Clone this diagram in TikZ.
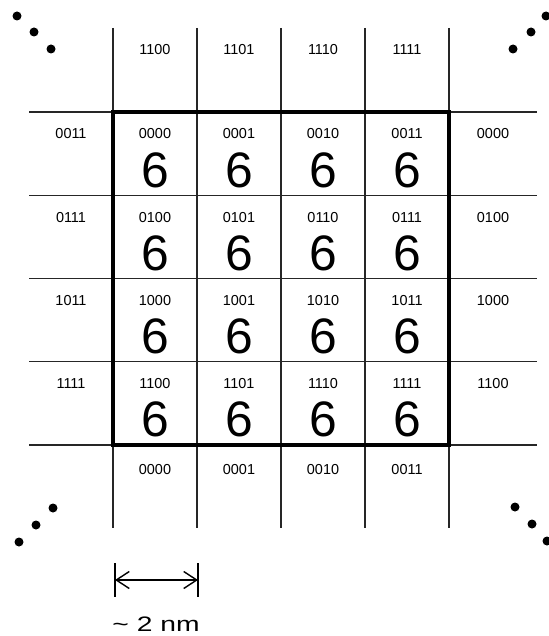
\documentclass[tikz,border=0pt]{standalone}
\usepackage{graphicx}
\usepackage{fontspec}
\setmainfont{Liberation Sans}
\usetikzlibrary{arrows.meta}

\begin{document}
\begin{tikzpicture}[
    x=1bp, y=-1bp,
    gridline/.style={line width=1.1bp, black!85},
    cellcode/.style={font=\fontsize{14.5}{16}\selectfont, inner sep=0pt},
    cellsix/.style={font=\fontsize{50}{50}\selectfont, inner sep=0pt},
    dot/.style={circle, fill=black, inner sep=0pt, minimum size=9bp},
    scalebar/.style={line width=1.4bp,
      {Straight Barb[length=13bp,width=17bp]}-{Straight Barb[length=13bp,width=17bp]}}
  ]
  \useasboundingbox (0,0) rectangle (549,636);

  %% Thin grid lines
  \foreach \gx in {113,197,281,365,449}
    \draw[gridline] (\gx,28) -- (\gx,528);
  \foreach \gy in {112,195.25,278.5,361.75,445}
    \draw[gridline] (29,\gy) -- (537,\gy);

  %% Thick boundary of the supercell
  \draw[line width=4.5bp] (113,112) rectangle (449,445);

  %% Inner cells: code and count
  \foreach [count=\j from 0] \row in {{0000,0001,0010,0011},{0100,0101,0110,0111},
                                      {1000,1001,1010,1011},{1100,1101,1110,1111}}
    \foreach [count=\i from 0] \code in \row {
      \node[cellcode] (code-\i-\j) at (155+84*\i, 134+83.25*\j) {\code};
      \node[cellsix]  (six-\i-\j)  at (155+84*\i, 170+83.25*\j) {6};
    }

  %% Neighbouring cells
  \foreach \code [count=\i from 0] in {1100,1101,1110,1111}
    \node[cellcode] (top-\i) at (155+84*\i, 50) {\code};
  \foreach \code [count=\i from 0] in {0000,0001,0010,0011}
    \node[cellcode] (bottom-\i) at (155+84*\i, 470) {\code};
  \foreach \code [count=\j from 0] in {0011,0111,1011,1111}
    \node[cellcode] (left-\j) at (71, 134+83.25*\j) {\code};
  \foreach \code [count=\j from 0] in {0000,0100,1000,1100}
    \node[cellcode] (right-\j) at (493, 134+83.25*\j) {\code};

  %% Ellipsis dots in the corners
  \foreach \dx/\dy [count=\k] in {17/16, 34/32, 51/49, 546/16, 531/32, 513/49,
                                  53/508, 36/525, 19/542, 515/507, 532/524, 547/541}
    \node[dot] (dot-\k) at (\dx,\dy) {};

  %% Scale bar
  \coordinate (bar-l) at (115,580);
  \coordinate (bar-r) at (198,580);
  \draw[line width=1.4bp] (bar-l) ++(0,-17) -- ++(0,34);
  \draw[line width=1.4bp] (bar-r) ++(0,-17) -- ++(0,34);
  \draw[scalebar] (bar-l) -- (bar-r);
  \node[font=\fontsize{21}{24}\selectfont, inner sep=0pt] (bar-label) at (156,624)
    {\scalebox{1.35}[1]{\textasciitilde\ 2 nm}};

\end{tikzpicture}
\end{document}
